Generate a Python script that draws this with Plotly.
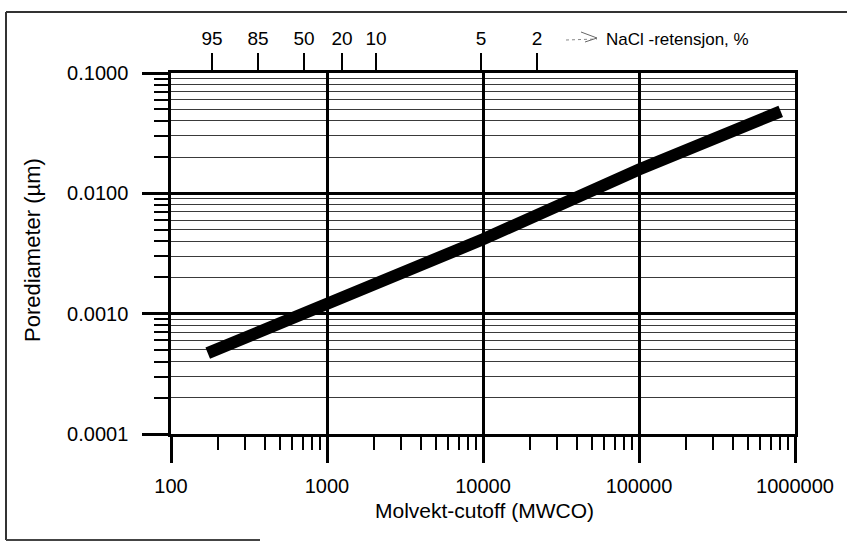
import plotly.graph_objects as go

# ---- data ----
mwco = [172, 1000, 10000, 100000, 810000]               # Molvekt-cutoff (MWCO)
pore_um = [0.00047, 0.00121, 0.00415, 0.0158, 0.048]     # Porediameter (µm)

x_tickvals = [100, 1000, 10000, 100000, 1000000]
x_ticktext = ["100", "1000", "10000", "100000", "1000000"]
y_tickvals = [0.1, 0.01, 0.001, 0.0001]
y_ticktext = ["0.1000", "0.0100", "0.0010", "0.0001"]

nacl_mwco = [183, 361, 713, 1248, 2061, 9700, 22200]
nacl_labels = ["95", "85", "50", "20", "10", "5", "2"]

x_minor = [m * 10 ** e for e in range(2, 6) for m in range(2, 10)]
y_minor = [m * 10.0 ** e for e in range(-4, -1) for m in range(2, 10)]

FONT = "Liberation Sans, Arial, sans-serif"

# plot area in pixels
L, R, T, B = 171, 795, 73, 434
W, H = R - L, B - T


def pxx(x):
    return (x - L) / W


def pxy(y):
    return (B - y) / H


fig = go.Figure()
fig.add_trace(go.Scatter(
    x=mwco, y=pore_um, mode="lines",
    line=dict(color="black", width=12),
    hoverinfo="skip", showlegend=False,
))
fig.add_trace(go.Scatter(
    x=nacl_mwco, y=[0.001] * len(nacl_mwco), xaxis="x2", mode="markers",
    marker=dict(opacity=0), hoverinfo="skip", showlegend=False,
))

fig.update_layout(
    width=847, height=542,
    margin=dict(l=L, r=847 - R, t=T, b=542 - B),
    paper_bgcolor="white", plot_bgcolor="white",
    font=dict(family=FONT, color="black", size=20),
    xaxis=dict(
        type="log", range=[2, 6],
        tickmode="array", tickvals=x_tickvals, ticktext=x_ticktext,
        ticks="outside", ticklen=26, tickwidth=2.5, tickcolor="black",
        ticklabelstandoff=6,
        showgrid=True, gridcolor="black", gridwidth=2.5,
        showline=True, linecolor="black", linewidth=2.5, mirror=True,
        minor=dict(tickmode="array", tickvals=x_minor, ticks="outside",
                   ticklen=13, tickwidth=2, tickcolor="black", showgrid=False),
        tickfont=dict(size=20),
    ),
    xaxis2=dict(
        type="log", range=[2, 6], overlaying="x", side="top",
        tickmode="array", tickvals=nacl_mwco, ticktext=nacl_labels,
        ticks="outside", ticklen=19, tickwidth=2, tickcolor="black",
        ticklabelstandoff=0,
        showgrid=False, showline=False,
        tickfont=dict(size=19),
    ),
    yaxis=dict(
        type="log", range=[-4, -1],
        tickmode="array", tickvals=y_tickvals, ticktext=y_ticktext,
        ticks="outside", ticklen=26, tickwidth=2.5, tickcolor="black",
        ticklabelstandoff=10,
        showgrid=True, gridcolor="black", gridwidth=2.5,
        showline=True, linecolor="black", linewidth=2.5, mirror=True,
        minor=dict(tickmode="array", tickvals=y_minor, ticks="outside",
                   ticklen=14, tickwidth=2, tickcolor="black",
                   showgrid=True, gridcolor="#3a3a3a", gridwidth=1),
        tickfont=dict(size=20),
    ),
    annotations=[
        dict(text="Molvekt-cutoff (MWCO)", xref="paper", yref="paper",
             x=pxx(484), y=pxy(510), showarrow=False,
             xanchor="center", yanchor="middle", font=dict(size=21)),
        dict(text="Porediameter (µm)", xref="paper", yref="paper",
             x=pxx(32), y=pxy(250), showarrow=False, textangle=-90,
             xanchor="center", yanchor="middle", font=dict(size=22)),
        dict(text="NaCl -retensjon, %", xref="paper", yref="paper",
             x=pxx(604), y=pxy(40), showarrow=False,
             xanchor="left", yanchor="middle", font=dict(size=17)),
    ],
    shapes=[
        # outer scanned frame
        dict(type="line", xref="paper", yref="paper",
             x0=pxx(6), y0=pxy(12), x1=pxx(850), y1=pxy(12),
             line=dict(color="#333", width=2)),
        dict(type="line", xref="paper", yref="paper",
             x0=pxx(6), y0=pxy(12), x1=pxx(6), y1=pxy(540),
             line=dict(color="#333", width=2)),
        dict(type="line", xref="paper", yref="paper",
             x0=pxx(6), y0=pxy(540), x1=pxx(260), y1=pxy(540),
             line=dict(color="#444", width=2)),
        # small dashed arrow before the NaCl label
        dict(type="line", xref="paper", yref="paper",
             x0=pxx(566), y0=pxy(40), x1=pxx(597), y1=pxy(39),
             line=dict(color="#888", width=1, dash="dot")),
        dict(type="line", xref="paper", yref="paper",
             x0=pxx(581), y0=pxy(32), x1=pxx(597), y1=pxy(38),
             line=dict(color="#666", width=1)),
        dict(type="line", xref="paper", yref="paper",
             x0=pxx(585), y0=pxy(42), x1=pxx(597), y1=pxy(38),
             line=dict(color="#666", width=1)),
    ],
)

fig.write_html("out.html")
